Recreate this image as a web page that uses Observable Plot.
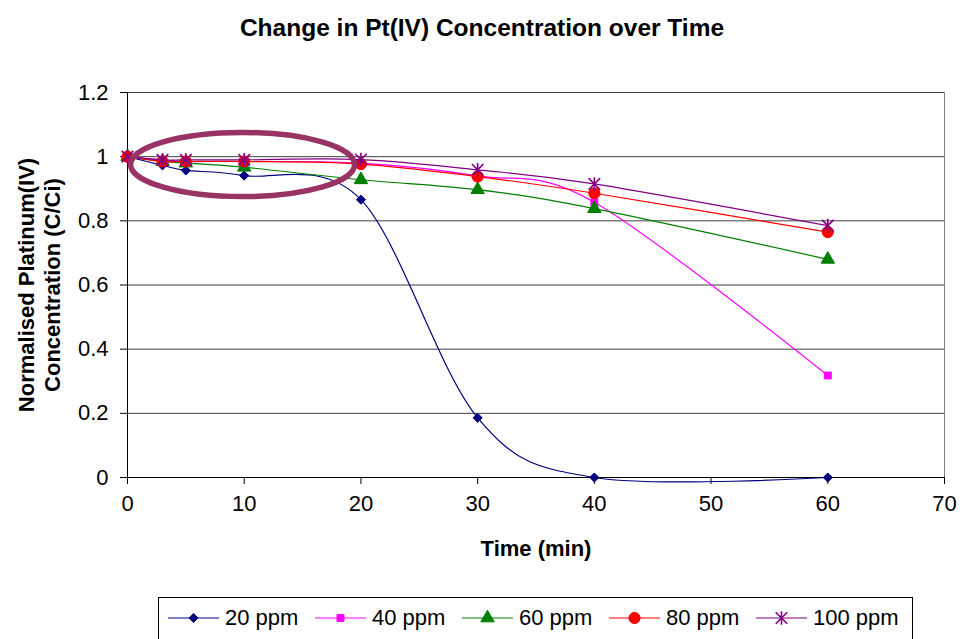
<!DOCTYPE html>
<html>
<head>
<meta charset="utf-8">
<script src="https://cdn.jsdelivr.net/npm/d3@7"></script>
<script src="https://cdn.jsdelivr.net/npm/@observablehq/plot@0.6"></script>
<style>
  body { margin: 0; background: #fff; }
  #chart { position: relative; width: 963px; height: 639px; overflow: hidden; font-family: "Liberation Sans", Arial, sans-serif; }
  #legend { position: absolute; left: 158px; top: 597px; width: 753px; height: 60px; border: 1px solid #000; background: #fff; }
  .item { position: absolute; top: 0; height: 40px; display: flex; align-items: center; font-size: 22px; color: #000; white-space: nowrap; }
  .item svg { margin-right: 6px; overflow: visible; }
</style>
</head>
<body>
<div id="chart"></div>
<script>
// Sampling times (min)
const times = [0, 3, 5, 10, 20, 30, 40, 60];

// Normalised Pt(IV) concentration C/Ci for each initial concentration
const ppm20  = [1.0, 0.973, 0.957, 0.941, 0.866, 0.186, 0.0, 0.0];
const ppm40  = [1.0, 0.990, 0.985, 0.985, 0.980, 0.940, 0.858, 0.318];
const ppm60  = [1.0, 0.985, 0.980, 0.967, 0.928, 0.897, 0.838, 0.680];
const ppm80  = [1.0, 0.985, 0.985, 0.985, 0.977, 0.938, 0.886, 0.765];
const ppm100 = [1.0, 0.990, 0.990, 0.990, 0.991, 0.959, 0.915, 0.785];

const seriesNames = ["20 ppm", "40 ppm", "60 ppm", "80 ppm", "100 ppm"];
const seriesValues = [ppm20, ppm40, ppm60, ppm80, ppm100];

const xTicks = [0, 10, 20, 30, 40, 50, 60, 70];
const yTicks = [0, 0.2, 0.4, 0.6, 0.8, 1.0, 1.2];

// Six-spoke asterisk marker (an X plus a vertical bar)
const asterisk6 = {
  draw(context, size) {
    const r = Math.sqrt(size / Math.PI);
    const d = r * 0.85;
    context.moveTo(0, -r); context.lineTo(0, r);
    context.moveTo(-d, -d); context.lineTo(d, d);
    context.moveTo(-d, d); context.lineTo(d, -d);
  }
};

const styles = [
  {color: "#000080", symbol: d3.symbolDiamond2, r: 4.1, filled: true},
  {color: "#FF00FF", symbol: d3.symbolSquare2,  r: 4.4, filled: true},
  {color: "#008000", symbol: d3.symbolTriangle2, r: 6.4, filled: true},
  {color: "#FF0000", symbol: d3.symbolCircle,   r: 5.6, filled: true},
  {color: "#800080", symbol: asterisk6,         r: 6.8, filled: false}
];

const rows = seriesNames.flatMap((name, i) =>
  times.map((t, j) => ({series: name, time: t, value: seriesValues[i][j]}))
);

// Smoothed lines: uniform Catmull-Rom (cardinal spline, tension 0)
const seriesMarks = seriesNames.flatMap((name, i) => {
  const s = styles[i];
  const data = rows.filter(d => d.series === name);
  return [
    Plot.line(data, {x: "time", y: "value", stroke: s.color, strokeWidth: 1.2, curve: "cardinal", tension: 0}),
    Plot.dot(data, {
      x: "time", y: "value", symbol: () => s.symbol, r: s.r,
      fill: s.filled ? s.color : "none", stroke: s.color,
      strokeWidth: s.filled ? 1 : 1.6
    })
  ];
});

const fmt = d => String(+d.toFixed(1));

const plot = Plot.plot({
  width: 963,
  height: 639,
  marginLeft: 127,
  marginRight: 19,
  marginTop: 92,
  marginBottom: 162,
  style: {fontFamily: "'Liberation Sans', Arial, sans-serif", fontSize: "22px", color: "#000", background: "#fff", overflow: "visible"},
  x: {domain: [0, 70], ticks: xTicks, tickSize: 7, tickPadding: 11, label: null},
  y: {domain: [0, 1.2], ticks: yTicks, tickSize: 7, tickPadding: 12, tickFormat: fmt, label: null},
  marks: [
    Plot.ruleY(yTicks.slice(1), {stroke: "#404040", strokeWidth: 1}),
    Plot.ruleX([70], {stroke: "#808080", strokeWidth: 1}),
    Plot.ruleX([0], {stroke: "#000", strokeWidth: 1}),
    Plot.ruleY([0], {stroke: "#000", strokeWidth: 1}),
    ...seriesMarks,
    Plot.text(["Change in Pt(IV) Concentration over Time"], {
      text: d => d, frameAnchor: "top-left", dx: 354.5, dy: -74,
      textAnchor: "middle", fontSize: 24.5, fontWeight: "bold"
    }),
    Plot.text(["Time (min)"], {
      text: d => d, frameAnchor: "bottom", dy: 78,
      textAnchor: "middle", fontSize: 22, fontWeight: "bold"
    }),
    Plot.text(["Normalised Platinum(IV)\nConcentration (C/Ci)"], {
      text: d => d, frameAnchor: "left", dx: -89, rotate: -90,
      textAnchor: "middle", lineAnchor: "middle", lineHeight: 1.18,
      fontSize: 22, fontWeight: "bold"
    })
  ]
});

// Highlight ring around the early-time region, placed with the plot's own scales
const sx = plot.scale("x"), sy = plot.scale("y");
const ringCenter = {time: 9.9, value: 0.974};
const ringRadius = {time: 9.6, value: 0.1};
d3.select(plot).append("ellipse")
  .attr("cx", sx.apply(ringCenter.time))
  .attr("cy", sy.apply(ringCenter.value))
  .attr("rx", sx.apply(ringCenter.time + ringRadius.time) - sx.apply(ringCenter.time))
  .attr("ry", sy.apply(ringCenter.value - ringRadius.value) - sy.apply(ringCenter.value))
  .attr("fill", "none")
  .attr("stroke", "#993366")
  .attr("stroke-width", 5.5);

const chart = document.getElementById("chart");
chart.appendChild(plot);

// Legend box below the plot
const legend = document.createElement("div");
legend.id = "legend";
chart.appendChild(legend);
seriesNames.forEach((name, i) => {
  const s = styles[i];
  const item = document.createElement("div");
  item.className = "item";
  item.style.left = (9 + i * 147) + "px";
  const svg = d3.create("svg").attr("width", 51).attr("height", 20);
  svg.append("line").attr("x1", 0).attr("x2", 51).attr("y1", 10).attr("y2", 10)
    .attr("stroke", s.color).attr("stroke-width", 1.2);
  svg.append("path")
    .attr("transform", "translate(25.5,10)")
    .attr("d", d3.symbol(s.symbol, s.r * s.r * Math.PI)())
    .attr("fill", s.filled ? s.color : "none")
    .attr("stroke", s.color)
    .attr("stroke-width", s.filled ? 1 : 1.6);
  item.appendChild(svg.node());
  const label = document.createElement("span");
  label.textContent = name;
  item.appendChild(label);
  legend.appendChild(item);
});
</script>
</body>
</html>
